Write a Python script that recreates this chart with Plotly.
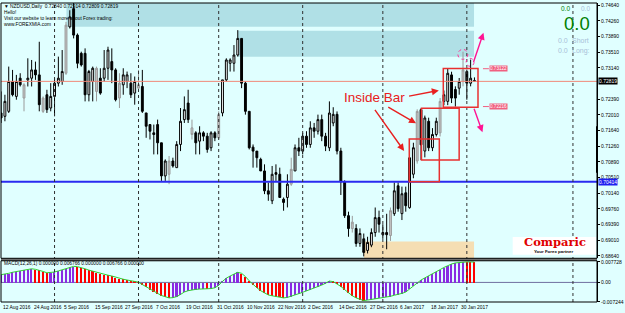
import plotly.graph_objects as go

# ---------------- data ----------------
date_labels = ["12 Aug 2016", "24 Aug 2016", "5 Sep 2016", "15 Sep 2016", "27 Sep 2016",
               "7 Oct 2016", "19 Oct 2016", "31 Oct 2016", "10 Nov 2016", "22 Nov 2016",
               "2 Dec 2016", "14 Dec 2016", "27 Dec 2016", "6 Jan 2017", "18 Jan 2017",
               "30 Jan 2017"]
label_every = 8  # one date label every 8 daily bars

open_ = [0.72063, 0.71983, 0.72102, 0.72816, 0.72459, 0.72895, 0.72420, 0.72855, 0.72895, 0.73093,
         0.72974, 0.72102, 0.72499, 0.72181, 0.72459, 0.72776, 0.72816, 0.73014, 0.74124, 0.74560,
         0.73926, 0.73490, 0.73490, 0.72499, 0.72816, 0.72578, 0.72895, 0.72895, 0.73133, 0.73292,
         0.73093, 0.72420, 0.72737, 0.72816, 0.72776, 0.72538, 0.72657, 0.72697, 0.72063, 0.71785,
         0.71587, 0.71785, 0.71349, 0.70556, 0.70595, 0.70913, 0.70754, 0.71309, 0.71904, 0.72300,
         0.71706, 0.71587, 0.71388, 0.71587, 0.71507, 0.71230, 0.71587, 0.71468, 0.72063, 0.72855,
         0.73252, 0.73252, 0.73450, 0.73847, 0.72776, 0.72102, 0.71245, 0.71150, 0.70952, 0.70675,
         0.70199, 0.69961, 0.70635, 0.70595, 0.70000, 0.70040, 0.70358, 0.70675, 0.71230, 0.71150,
         0.71507, 0.71309, 0.71706, 0.71626, 0.71904, 0.71507, 0.71230, 0.71824, 0.72030, 0.71151,
         0.70414, 0.69605, 0.69296, 0.69296, 0.68940, 0.69050, 0.68773, 0.68900, 0.69200, 0.69558,
         0.69200, 0.69200, 0.69130, 0.69653, 0.70319, 0.69653, 0.70152, 0.69796, 0.70597, 0.70914,
         0.72142, 0.71151, 0.71864, 0.71230, 0.71548, 0.71587, 0.72340, 0.72340, 0.72974, 0.72624,
         0.72656, 0.72815, 0.73054, 0.72775, 0.72840]
high_ = [0.72578, 0.72499, 0.73173, 0.73093, 0.72974, 0.73014, 0.72776, 0.73371, 0.73331, 0.73292,
         0.73767, 0.72459, 0.72618, 0.72776, 0.72895, 0.73411, 0.73569, 0.74243, 0.74521, 0.74700,
         0.73966, 0.73529, 0.73609, 0.73093, 0.73173, 0.73173, 0.73133, 0.73569, 0.73648, 0.73609,
         0.73133, 0.73014, 0.73133, 0.73054, 0.73014, 0.72935, 0.73093, 0.73093, 0.72063, 0.71785,
         0.71785, 0.71904, 0.71349, 0.70952, 0.71032, 0.70992, 0.71388, 0.72181, 0.72459, 0.72618,
         0.71904, 0.71626, 0.71745, 0.71626, 0.71587, 0.71626, 0.71626, 0.72102, 0.72855, 0.73371,
         0.73371, 0.73688, 0.74045, 0.73847, 0.72816, 0.72102, 0.71309, 0.71150, 0.70992, 0.70833,
         0.70397, 0.70794, 0.70833, 0.70754, 0.70040, 0.70595, 0.70992, 0.71309, 0.71468, 0.71587,
         0.71626, 0.71864, 0.71824, 0.72023, 0.72023, 0.71587, 0.72340, 0.72200, 0.72100, 0.71230,
         0.70450, 0.69700, 0.69600, 0.69400, 0.69300, 0.69177, 0.69100, 0.69300, 0.69800, 0.69725,
         0.69400, 0.69650, 0.69800, 0.70400, 0.70400, 0.70300, 0.70300, 0.71436, 0.71350, 0.72150,
         0.72174, 0.72000, 0.71950, 0.71700, 0.71950, 0.72420, 0.72600, 0.73122, 0.73050, 0.72700,
         0.72900, 0.73529, 0.73100, 0.73340, 0.72914]
low_ = [0.71824, 0.71864, 0.72063, 0.72459, 0.72380, 0.72697, 0.72102, 0.72697, 0.72697, 0.72855,
        0.72102, 0.72063, 0.72063, 0.72102, 0.71983, 0.72697, 0.72737, 0.72974, 0.74085, 0.73847,
        0.73133, 0.73173, 0.72340, 0.72340, 0.72340, 0.72340, 0.72499, 0.72816, 0.72855, 0.72776,
        0.72340, 0.72181, 0.72499, 0.72657, 0.72420, 0.72261, 0.72578, 0.72063, 0.71468, 0.71428,
        0.71071, 0.71071, 0.70437, 0.70437, 0.70358, 0.70754, 0.70754, 0.71150, 0.71824, 0.71824,
        0.71428, 0.71071, 0.71071, 0.71388, 0.71111, 0.71150, 0.71388, 0.71428, 0.71983, 0.72816,
        0.73054, 0.73054, 0.73411, 0.72657, 0.72023, 0.71190, 0.70754, 0.70754, 0.70675, 0.70120,
        0.69961, 0.69882, 0.70437, 0.70040, 0.69723, 0.69802, 0.70318, 0.70675, 0.71032, 0.71071,
        0.71230, 0.71230, 0.71468, 0.71547, 0.71388, 0.71150, 0.71150, 0.71745, 0.71071, 0.70100,
        0.69550, 0.69100, 0.69200, 0.68860, 0.68860, 0.68630, 0.68700, 0.68850, 0.69100, 0.69200,
        0.69050, 0.68800, 0.69000, 0.69600, 0.69700, 0.69500, 0.69700, 0.69772, 0.70500, 0.70850,
        0.70937, 0.71000, 0.71150, 0.71150, 0.71500, 0.71500, 0.72250, 0.72250, 0.72300, 0.72216,
        0.72500, 0.72700, 0.72380, 0.72700, 0.72809]
close_ = [0.71943, 0.72340, 0.72816, 0.72499, 0.72816, 0.72737, 0.72737, 0.72895, 0.73093, 0.72974,
          0.72261, 0.72420, 0.72142, 0.72459, 0.72776, 0.72895, 0.73054, 0.74164, 0.74362, 0.73926,
          0.73252, 0.73212, 0.72499, 0.73054, 0.73133, 0.73133, 0.72538, 0.73133, 0.73569, 0.73093,
          0.72380, 0.72776, 0.72974, 0.72974, 0.72499, 0.72816, 0.72737, 0.72102, 0.71745, 0.71626,
          0.71547, 0.71349, 0.70556, 0.70913, 0.70913, 0.70794, 0.71309, 0.71864, 0.72142, 0.71904,
          0.71547, 0.71349, 0.71587, 0.71507, 0.71190, 0.71587, 0.71468, 0.72023, 0.72855, 0.73331,
          0.73331, 0.73450, 0.73847, 0.72776, 0.72102, 0.71230, 0.71150, 0.70992, 0.70675, 0.70199,
          0.70120, 0.70595, 0.70595, 0.70040, 0.69921, 0.70358, 0.70714, 0.71230, 0.71150, 0.71507,
          0.71309, 0.71706, 0.71626, 0.71904, 0.71507, 0.71270, 0.72062, 0.72030, 0.71151, 0.70414,
          0.69605, 0.69296, 0.69450, 0.68940, 0.69177, 0.68725, 0.68964, 0.69200, 0.69558, 0.69400,
          0.69150, 0.69150, 0.69725, 0.70200, 0.69772, 0.70129, 0.69843, 0.70991, 0.71230, 0.72100,
          0.71300, 0.71943, 0.71230, 0.71548, 0.71864, 0.72340, 0.72499, 0.73013, 0.72419, 0.72419,
          0.72815, 0.73093, 0.72775, 0.72894, 0.72819]
grey_bars = [6, 11, 17, 25, 31, 36, 44, 50, 57, 76, 92, 102, 109, 115, 121]

macd = [0.0029, 0.0031, 0.0034, 0.0038, 0.0041, 0.0044, 0.0047, 0.0049, 0.0051, 0.0049,
        0.0046, 0.0041, 0.0036, 0.0037, 0.0039, 0.0043, 0.0047, 0.0052, 0.0057, 0.0060,
        0.0059, 0.0056, 0.0051, 0.0046, 0.0042, 0.0037, 0.0033, 0.0030, 0.0027, 0.0024,
        0.0019, 0.0015, 0.0012, 0.0009, 0.0006, 0.0003, 0.0001, -0.0008, -0.0017, -0.0026,
        -0.0034, -0.0041, -0.0049, -0.0055, -0.0058, -0.0057, -0.0053, -0.0045, -0.0036, -0.0031,
        -0.0028, -0.0026, -0.0025, -0.0024, -0.0025, -0.0023, -0.0020, -0.0011, 0.0004, 0.0016,
        0.0024, 0.0031, 0.0038, 0.0034, 0.0022, 0.0006, -0.0008, -0.0020, -0.0031, -0.0040,
        -0.0047, -0.0050, -0.0052, -0.0055, -0.0058, -0.0056, -0.0052, -0.0047, -0.0042, -0.0037,
        -0.0032, -0.0027, -0.0021, -0.0016, -0.0010, -0.0003, 0.0005, 0.0003, -0.0005, -0.0015,
        -0.0027, -0.0039, -0.0050, -0.0058, -0.0064, -0.0068, -0.0066, -0.0064, -0.0061, -0.0059,
        -0.0057, -0.0055, -0.0052, -0.0048, -0.0045, -0.0041, -0.0036, -0.0025, -0.0012, -0.0002,
        0.0009, 0.0017, 0.0024, 0.0032, 0.0040, 0.0048, 0.0056, 0.0064, 0.0069, 0.0073,
        0.0075, 0.007728, 0.00768, 0.00765, 0.00762]

month_start_bars = [14, 36, 57, 79, 100, 122]
extra_vline_bar = 149.8

price_tick_vals = [0.74640, 0.74265, 0.73890, 0.73515, 0.73140, 0.72390, 0.72015, 0.71640,
                   0.71265, 0.70890, 0.70515, 0.70140, 0.69765, 0.69390, 0.69015, 0.68640]
price_tick_text = ["0.74640", "0.74260", "0.73890", "0.73510", "0.73140", "0.72390", "0.72010",
                   "0.71640", "0.71260", "0.70890", "0.70510", "0.70140", "0.69760", "0.69390",
                   "0.69010", "0.68640"]
macd_tick_vals = [0.007728, 0.0, -0.007244]
macd_tick_text = ["0.007728", "0.00", "-0.007244"]

bid_price = 0.72819
support_level = 0.70414
box3_levels = [0.73122, 0.72216]

# ---------------- geometry helpers ----------------
W, H = 625, 313
ML, MR, MT, MB = 1, 23, 1, 11
PX_L, PX_R = ML, W - MR
PX_T, PX_B = MT, H - MB
MAIN_BOT = 258.0
MACD_TOP = 260.5
X_RANGE = [-0.026, 156.1]
Y_RANGE = [0.685844, 0.746947]
M_RANGE = [-0.00733, 0.0081]


def px2x(px):
    return X_RANGE[0] + (px - PX_L) / (PX_R - PX_L) * (X_RANGE[1] - X_RANGE[0])


def py2p(py):
    return Y_RANGE[1] - (py - PX_T) / (MAIN_BOT - PX_T) * (Y_RANGE[1] - Y_RANGE[0])


def pxp(px):
    return (px - PX_L) / (PX_R - PX_L)


def pyp(py):
    return (PX_B - py) / (PX_B - PX_T)


n = len(close_)
idx = list(range(n))
norm = [i for i in idx if i not in grey_bars]

fig = go.Figure()

fig.add_trace(go.Candlestick(
    x=norm, open=[open_[i] for i in norm], high=[high_[i] for i in norm],
    low=[low_[i] for i in norm], close=[close_[i] for i in norm],
    increasing=dict(line=dict(color="black", width=1), fillcolor="white"),
    decreasing=dict(line=dict(color="black", width=1), fillcolor="black"),
    whiskerwidth=0, xaxis="x", yaxis="y", showlegend=False, hoverinfo="skip"))

fig.add_trace(go.Candlestick(
    x=grey_bars, open=[open_[i] for i in grey_bars], high=[high_[i] for i in grey_bars],
    low=[low_[i] for i in grey_bars], close=[close_[i] for i in grey_bars],
    increasing=dict(line=dict(color="#9a9a9a", width=1), fillcolor="#c4c4c4"),
    decreasing=dict(line=dict(color="#9a9a9a", width=1), fillcolor="#c4c4c4"),
    whiskerwidth=0, xaxis="x", yaxis="y", showlegend=False, hoverinfo="skip"))

bar_colors = ["#8A2BE2" if (i == 0 or macd[i] >= macd[i - 1]) else "#FF0000" for i in idx]
fig.add_trace(go.Bar(x=idx, y=macd, marker=dict(color=bar_colors, line=dict(width=0)),
                     width=0.42, xaxis="x2", yaxis="y2", showlegend=False, hoverinfo="skip"))
fig.add_trace(go.Scatter(x=idx, y=macd, mode="lines", line=dict(color="#32CD32", width=1),
                         xaxis="x2", yaxis="y2", showlegend=False, hoverinfo="skip"))

shapes = []
# supply / demand zones
zones = [
    (px2x(67), px2x(478), py2p(25), Y_RANGE[1], "#B0E0E6"),
    (px2x(240), px2x(478), py2p(55), py2p(29), "#B0E0E6"),
    (px2x(367), px2x(478), Y_RANGE[0], py2p(241), "#F5DEB3"),
]
for x0, x1, y0, y1, col in zones:
    shapes.append(dict(type="rect", xref="x", yref="y", x0=x0, x1=x1, y0=y0, y1=y1,
                       fillcolor=col, line=dict(width=0), layer="below"))

# horizontal levels
shapes.append(dict(type="line", xref="paper", yref="y", x0=0, x1=1, y0=bid_price, y1=bid_price,
                   line=dict(color="#F08878", width=1)))
shapes.append(dict(type="line", xref="paper", yref="y", x0=0, x1=1, y0=support_level,
                   y1=support_level, line=dict(color="#2A2AF0", width=2)))

# period separators
for b in month_start_bars + [extra_vline_bar]:
    shapes.append(dict(type="line", xref="x", yref="paper", x0=b, x1=b, y0=0, y1=1,
                       line=dict(color="#303030", width=1, dash="dot")))

# MACD zero line
shapes.append(dict(type="line", xref="paper", yref="y2", x0=0, x1=1, y0=0, y1=0,
                   line=dict(color="#7070A0", width=1), layer="below"))

# inside-bar boxes
for (a, b, t, btm) in [(412.7, 443, 138, 181), (425, 463, 107, 159), (447, 482, 67, 106)]:
    shapes.append(dict(type="rect", xref="x", yref="y", x0=px2x(a), x1=px2x(b),
                       y0=py2p(btm), y1=py2p(t), line=dict(color="#E83030", width=1.5)))

# short lines for box3 levels
for lv in box3_levels:
    shapes.append(dict(type="line", xref="x", yref="y", x0=px2x(487), x1=px2x(493),
                       y0=lv, y1=lv, line=dict(color="#F06080", width=1)))

# pink circles
for cx, cy, r in [(466.7, 52.7, 5), (474, 60.7, 4)]:
    shapes.append(dict(type="circle", xref="x", yref="y", x0=px2x(cx - r), x1=px2x(cx + r),
                       y0=py2p(cy + r), y1=py2p(cy - r),
                       line=dict(color="#FF3399", width=1, dash="dot")))

# panel frames and separator
shapes.append(dict(type="rect", xref="paper", yref="paper", x0=0, x1=1, y0=pyp(MAIN_BOT),
                   y1=pyp(MACD_TOP), fillcolor="#707070", line=dict(width=0)))
shapes.append(dict(type="rect", xref="paper", yref="paper", x0=0, x1=1, y0=pyp(MAIN_BOT), y1=1,
                   line=dict(color="black", width=1)))
shapes.append(dict(type="rect", xref="paper", yref="paper", x0=0, x1=1, y0=0,
                   y1=pyp(MACD_TOP), line=dict(color="black", width=1)))
shapes.append(dict(type="line", xref="paper", yref="y", x0=1, x1=1, y0=py2p(172), y1=py2p(125),
                   line=dict(color="black", width=2)))

# Comparic logo box
shapes.append(dict(type="rect", xref="paper", yref="paper", x0=pxp(517), x1=pxp(601),
                   y0=pyp(254.5), y1=pyp(236.5), fillcolor="white", line=dict(width=0)))

ann = []
FONT = "Liberation Sans"


def txt(px, py, s, size=5, color="black", xanchor="left", family=FONT, **kw):
    ann.append(dict(x=pxp(px), y=pyp(py), xref="paper", yref="paper", text=s, showarrow=False,
                    xanchor=xanchor, yanchor="middle",
                    font=dict(size=size, color=color, family=family), **kw))


# header texts
txt(2.5, 5, "▼ NZDUSD,Daily  0.72840 0.72914 0.72809 0.72819", size=4.8)
txt(2.5, 10.7, "Hello!", size=4.8)
txt(2.5, 16.5, "Visit our website to learn more about Forex trading:", size=4.8)
txt(2.5, 22.8, "www.FOREXMIA.com", size=4.8)
txt(2.5, 263.5, "MACD(12,26,1) 0.000000 0.006766 0.000000 0.006766 0.000000", size=4.8)

# top-right counters
txt(570.5, 6.5, "0.0", size=6.5, color="#008000", xanchor="center")
txt(590, 6.5, "0.0", size=6.5, color="#A8C0D8", xanchor="center")
txt(581.5, 21.5, "0.0", size=18.5, color="#008000", xanchor="center")
txt(567.5, 39, "0.0", size=7, color="#A8C0D8", xanchor="center")
txt(585.5, 39, "Short", size=7, color="#A8C0D8", xanchor="center")
txt(567.5, 49, "0.0", size=7, color="#A8C0D8", xanchor="center")
txt(585.5, 49, "Long:", size=7, color="#A8C0D8", xanchor="center")

# logo
txt(559.5, 242, "<b>Comparic</b>", size=11.5, color="#E00000", xanchor="center",
    family="DejaVu Serif")
txt(558.5, 251.2, "<b>Your Forex partner</b>", size=4.4, color="black", xanchor="center")

# date labels
for k, lab in enumerate(date_labels):
    ann.append(dict(x=k * label_every, y=pyp(307.5), xref="x", yref="paper", text=lab,
                    showarrow=False, xanchor="left", yanchor="middle",
                    font=dict(size=4.9, color="black", family=FONT)))

# price boxes on axis
for val, bg in [(bid_price, "black"), (support_level, "#2020F0")]:
    ann.append(dict(x=1, y=val, xref="paper", yref="y", text=f"{val:.5f}", showarrow=False,
                    xanchor="left", yanchor="middle", xshift=1, bgcolor=bg, borderpad=0,
                    font=dict(size=5, color="white", family=FONT)))

# box3 level labels
for lv in box3_levels:
    ann.append(dict(x=px2x(493), y=lv, xref="x", yref="y", text=f"{lv:.5f}", showarrow=False,
                    xanchor="left", yanchor="middle", bgcolor="#F06080", borderpad=0,
                    font=dict(size=4.6, color="white", family=FONT)))

# Inside Bar label + arrows
ann.append(dict(x=px2x(377.5), y=py2p(96), xref="x", yref="y", text="Inside Bar",
                showarrow=False, xanchor="center", yanchor="middle",
                font=dict(size=13.5, color="#E82020", family=FONT)))
for (tx, ty, hx, hy, col) in [(411, 95, 442.5, 89, "#E82020"), (390, 105, 419.5, 122, "#E82020"),
                              (377, 107, 407.5, 150, "#E82020"), (477, 62, 487.5, 31, "#FF1493"),
                              (477.5, 106, 486.5, 131, "#FF1493")]:
    ann.append(dict(x=px2x(hx), y=py2p(hy), ax=px2x(tx), ay=py2p(ty), xref="x", yref="y",
                    axref="x", ayref="y", text="", showarrow=True, arrowhead=2, arrowsize=1,
                    arrowwidth=1.4, arrowcolor=col))

fig.update_layout(
    width=W, height=H, margin=dict(l=ML, r=MR, t=MT, b=MB, pad=0),
    paper_bgcolor="#E0FFFF", plot_bgcolor="#E0FFFF",
    shapes=shapes, annotations=ann, bargap=0, showlegend=False,
    xaxis=dict(domain=[0, 1], range=X_RANGE, showticklabels=False, showgrid=False,
               zeroline=False, anchor="y", rangeslider=dict(visible=False), fixedrange=True),
    xaxis2=dict(domain=[0, 1], range=X_RANGE, showticklabels=False, showgrid=False,
                zeroline=False, anchor="y2", matches="x"),
    yaxis=dict(domain=[pyp(MAIN_BOT), 1], range=Y_RANGE, side="right", tickvals=price_tick_vals,
               ticktext=price_tick_text, tickfont=dict(size=5, family=FONT, color="black"),
               ticks="outside", ticklen=2, tickcolor="black", showgrid=False, zeroline=False,
               showline=True, linecolor="black", linewidth=1),
    yaxis2=dict(domain=[0, pyp(MACD_TOP)], range=M_RANGE, side="right", tickvals=macd_tick_vals,
                ticktext=macd_tick_text, tickfont=dict(size=5, family=FONT, color="black"),
                ticks="outside", ticklen=2, tickcolor="black", showgrid=False, zeroline=False,
                showline=True, linecolor="black", linewidth=1),
)

fig.write_html("out.html")
